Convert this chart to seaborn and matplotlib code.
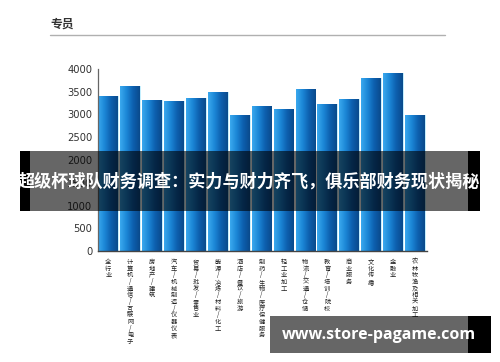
import numpy as np
import pandas as pd
import matplotlib
matplotlib.use("Agg")
import matplotlib.pyplot as plt
from matplotlib.patches import Rectangle
from matplotlib.colors import LinearSegmentedColormap
from matplotlib.ticker import FixedLocator
import seaborn as sns

title = "专员"
categories = ["全行业", "计算机/通信/互联网/电子", "房地产/建筑", "汽车/机械制造/仪器仪表",
              "贸易/批发/零售业", "能源/冶炼/材料/化工", "酒店/餐饮/旅游", "制药/生物/医疗保健服务",
              "轻工业加工", "物流/交通/仓储", "教育/培训/院校", "商业服务", "文化传播", "金融业",
              "农林牧渔及相关加工"]
values = [3400, 3620, 3310, 3290, 3370, 3490, 3000, 3190, 3110, 3560, 3230, 3350, 3800, 3910, 3000]
yticks = [0, 500, 1000, 1500, 2000, 2500, 3000, 3500, 4000]
overlay_text = "超级杯球队财务调查：实力与财力齐飞，俱乐部财务现状揭秘"
watermark = "www.store-pagame.com"

sns.set_theme(style="white")
plt.rcParams['font.family'] = ['Noto Sans CJK SC', 'DejaVu Sans']

W, H = 500, 362
fig = plt.figure(figsize=(5, 3.62), dpi=100)
fig.patch.set_facecolor("white")

def fx(px):
    return px / W

def fy(py):
    return 1 - py / H

ax = fig.add_axes([fx(98), fy(251), fx(427) - fx(98), fy(69) - fy(251)])
df = pd.DataFrame({"cat": categories, "val": values})
sns.barplot(data=df, x="cat", y="val", color="#1a7fd0", width=0.9, ax=ax,
            edgecolor="#c6f1ff", linewidth=0.7, saturation=1)

# gradient fill clipped to each bar
cmap = LinearSegmentedColormap.from_list("g", ["#3aa9ee", "#1b86d6", "#0d5fae", "#0a4a8c"])
grad = np.linspace(0, 1, 64).reshape(1, -1)
for p in list(ax.patches):
    x0, y0 = p.get_x(), p.get_y()
    w, h = p.get_width(), p.get_height()
    im = ax.imshow(grad, cmap=cmap, aspect="auto", extent=[x0, x0 + w, y0, y0 + h],
                   zorder=p.get_zorder() + 0.1, interpolation="bilinear")
    im.set_clip_path(p)

ax.set_xlim(-0.47, 14.55)
ax.set_ylim(0, 4000)
ax.set_yticks(yticks)
ax.set_yticklabels([str(t) for t in yticks], fontsize=7.2, color="#333333",
                   family=['DejaVu Sans'])
ax.set_xticks(range(len(categories)))
ax.set_xticklabels(["\n".join(c) for c in categories], fontsize=4.5, color="#222222",
                   linespacing=0.78, va="top")
ax.xaxis.set_minor_locator(FixedLocator(np.arange(0.5, 14.6, 1.0)))
ax.tick_params(axis="x", which="major", length=0, pad=5)
ax.tick_params(axis="x", which="minor", direction="in", length=3, width=0.8, color="#444444")
ax.tick_params(axis="y", which="major", direction="in", length=3, width=0.8, color="#555555", pad=4)
ax.set_xlabel("")
ax.set_ylabel("")
for s in ["top", "right"]:
    ax.spines[s].set_visible(False)
ax.spines["left"].set_color("#666666")
ax.spines["left"].set_linewidth(0.9)
ax.spines["bottom"].set_color("#444444")
ax.spines["bottom"].set_linewidth(1.0)

# title and rule
fig.text(fx(50), fy(24), title, fontsize=8.5, fontweight="bold", color="#333333",
         ha="left", va="center")
fig.add_artist(plt.Line2D([fx(50), fx(445)], [fy(35), fy(35)], color="#b0b0b0",
                          linewidth=1.0, transform=fig.transFigure))

# overlay band
def rect(x0, y0, x1, y1, color, alpha):
    fig.add_artist(Rectangle((fx(x0), fy(y1)), fx(x1) - fx(x0), fy(y0) - fy(y1),
                             transform=fig.transFigure, facecolor=color, alpha=alpha,
                             edgecolor="none", zorder=10))

rect(30, 151, 468, 211, "black", 0.6)
rect(20, 151, 30, 211, "black", 1.0)
rect(468, 151, 480, 211, "black", 1.0)
fig.text(fx(249), fy(182), overlay_text, fontsize=12.3, fontweight="bold", color="white",
         ha="center", va="center", zorder=11)

# watermark
rect(270, 316, 468, 353, "black", 0.6)
rect(468, 316, 491, 353, "black", 1.0)
fig.text(fx(379), fy(335), watermark, fontsize=11.5, fontweight="bold", color="white",
         ha="center", va="center", zorder=11, family=["Open Sans", "DejaVu Sans"])

fig.savefig("out.png", dpi=100)
